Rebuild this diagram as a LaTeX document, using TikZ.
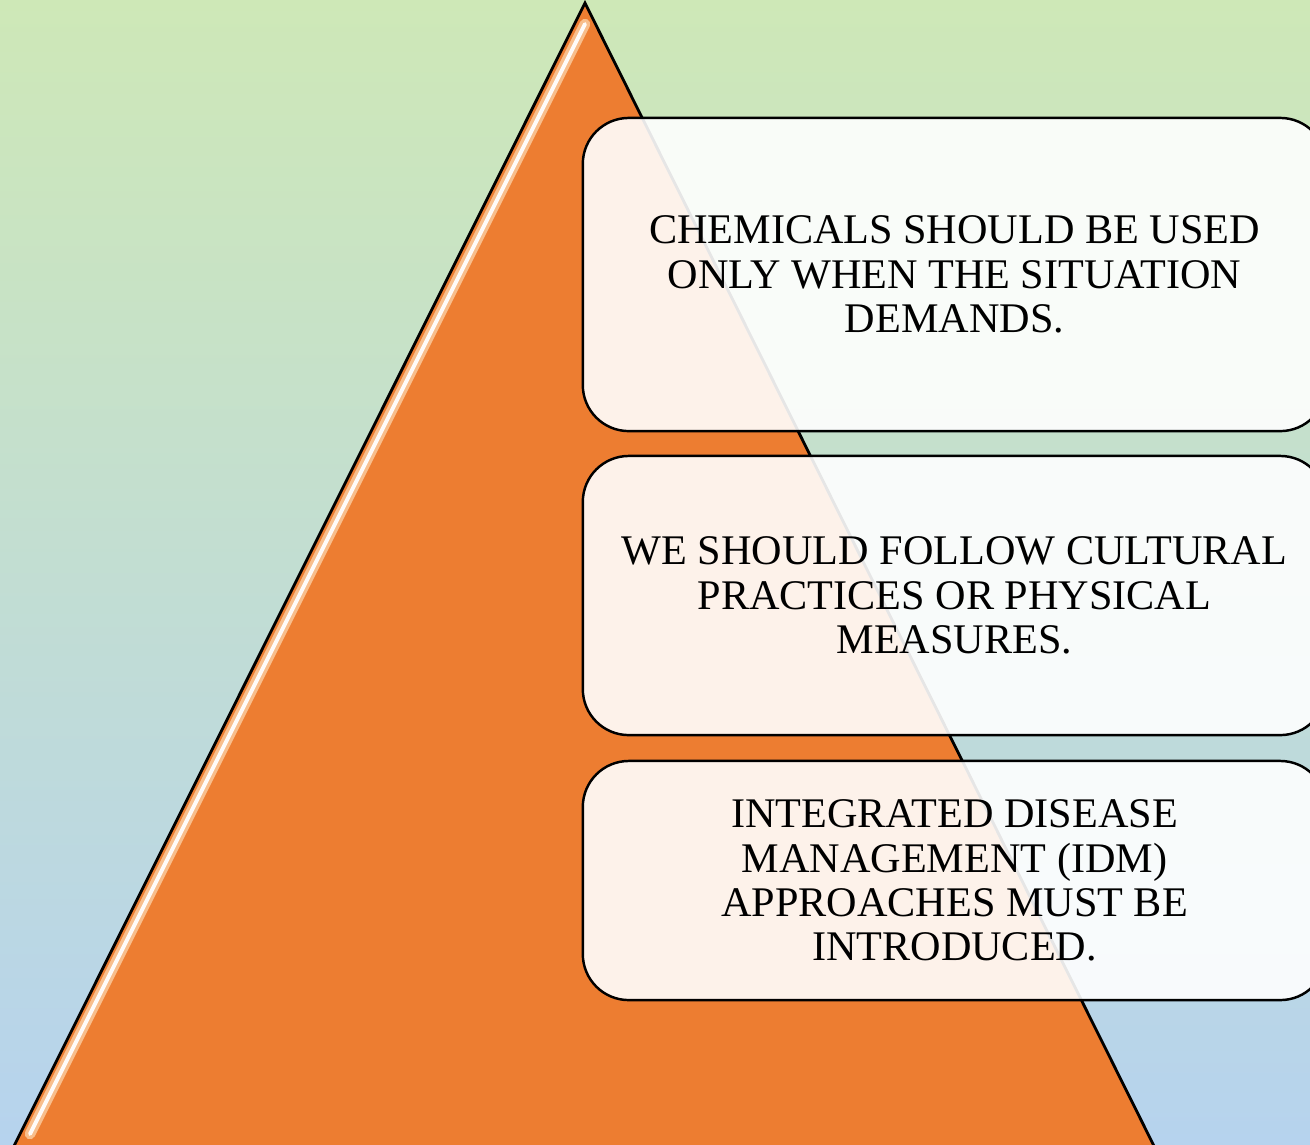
\documentclass[tikz,border=0pt]{standalone}
\usepackage{fontspec}
\setmainfont{Liberation Serif}
\usetikzlibrary{positioning}

\definecolor{bgTop}{RGB}{206,232,183}
\definecolor{bgMid}{RGB}{190,220,192}
\definecolor{bgBot}{RGB}{182,211,238}
\definecolor{pyrOrange}{RGB}{237,125,49}
\definecolor{pyrGlow}{RGB}{248,190,140}

\begin{document}
\begin{tikzpicture}[x=0.01cm, y=-0.01cm]
				\tikzstyle{Step}	= [draw=black, line width=0.7pt, rounded corners=0.46cm, fill=white, fill opacity=0.9, text opacity=1, minimum width=7.43cm, align=center, font=\fontsize{12}{12.6}\selectfont]
				\tikzstyle{Edge}	= [draw=black, line width=0.8pt]
				\tikzstyle{Glow}	= [pyrGlow, line width=3pt, line cap=round]
				\tikzstyle{Shine}	= [white, line width=1.1pt, opacity=0.95, line cap=round]

				\useasboundingbox (0,0) rectangle (1310,1144);
				\clip (0,0) rectangle (1310,1144);
				\shade [top color=bgTop, middle color=bgMid, bottom color=bgBot] (0,0) rectangle (1310,1144);

				% pyramid
				\coordinate (apex) at (585,3);
				\coordinate (baseL) at (13,1148);
				\coordinate (baseR) at (1155,1148);
				\fill [pyrOrange] (apex) -- (baseL) -- (baseR) -- cycle;
				\draw [Edge, line join=miter] (baseL) -- (apex) -- (baseR);
				\draw [Glow] (585,24) -- (30,1134);
				\draw [Shine] (585,24) -- (30,1134);

				% boxes
				\node (top) at (954.5,274.5) [Step, minimum height=3.13cm] {CHEMICALS SHOULD BE USED\\ONLY WHEN THE SITUATION\\DEMANDS.};
				\node (mid) at (954.5,595.5) [Step, minimum height=2.79cm] {WE SHOULD FOLLOW CULTURAL\\PRACTICES OR PHYSICAL\\MEASURES.};
				\node (low) at (954.5,880.5) [Step, minimum height=2.39cm] {INTEGRATED DISEASE\\MANAGEMENT (IDM)\\APPROACHES MUST BE\\INTRODUCED.};
			\end{tikzpicture}
\end{document}
